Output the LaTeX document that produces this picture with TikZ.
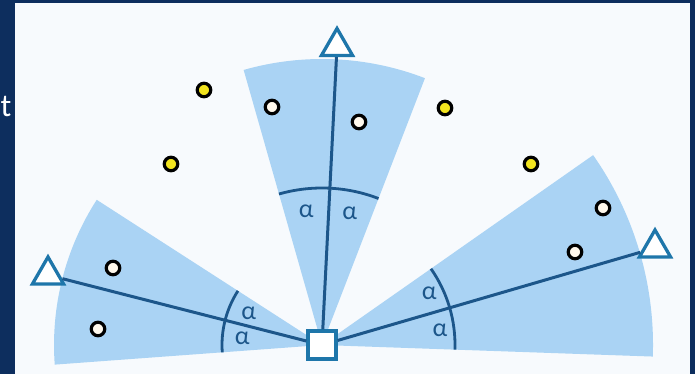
\documentclass[tikz,border=0pt]{standalone}
\usepackage{fontspec}
\setmainfont{Carlito}
\usetikzlibrary{shapes.geometric,calc}
\definecolor{frameC}{RGB}{13,46,94}
\definecolor{panelC}{RGB}{247,250,253}
\definecolor{beamC}{RGB}{170,211,244}
\definecolor{rayC}{RGB}{28,86,138}
\definecolor{antC}{RGB}{30,118,170}
\definecolor{tagC}{RGB}{242,228,30}
\definecolor{scatC}{RGB}{255,248,236}

\begin{document}
\begin{tikzpicture}[x=1pt,y=1pt,
  rx/.style={regular polygon,regular polygon sides=3,draw=antC,line width=3.3pt,
    fill=white,minimum size=36pt,inner sep=0pt},
  bs/.style={rectangle,draw=antC,line width=3.3pt,fill=white,minimum size=28pt,inner sep=0pt},
  dotY/.style={circle,draw=black,line width=3.2pt,fill=tagC,minimum size=13.5pt,inner sep=0pt},
  dotW/.style={dotY,fill=scatC},
  ray/.style={rayC,line width=3pt},
  amark/.style={rayC,line width=2.8pt},
  alab/.style={text=rayC,font=\fontsize{26}{26}\selectfont,inner sep=0pt}]
  \def\al{18.5}
  \fill[frameC] (0,0) rectangle (695,374);
  \fill[panelC] (15,0) rectangle (690,371);
  \useasboundingbox (0,0) rectangle (695,374);
  \node[white,anchor=west,font=\fontsize{32}{32}\selectfont,inner sep=0pt] (cut) at (0.5,267) {t};
  \coordinate (O) at (322,29);
  % beams: axis angle / radius / mark radius / label radius
  \foreach \a/\r/\m/\l [count=\i] in {165.7/268/100/80, 87.4/286/157/135, 16.5/331/133/119}{
    \pgfmathsetmacro\s{\a-\al}
    \pgfmathsetmacro\e{\a+\al}
    \fill[beamC] (O) -- ++(\s:\r) arc[start angle=\s,end angle=\e,radius=\r] -- cycle;
    \draw[amark] ($(O)+(\s:\m)$) arc[start angle=\s,end angle=\e,radius=\m];
    \node[alab] (al\i a) at ($(O)+(\a+\al/2:\l)$) {α};
    \node[alab] (al\i b) at ($(O)+(\a-\al/2:\l)$) {α};
  }
  % base station and receivers
  \node[bs] (bs) at (O) {};
  \node[rx] (rxL) at (48,99) {};
  \node[rx] (rxT) at (337,327.5) {};
  \node[rx] (rxR) at (655,126) {};
  \foreach \t in {rxL,rxT,rxR}
    \draw[ray] (bs) -- (\t);
  % tags
  \foreach \p [count=\i] in {(204,284),(171,210),(445,266),(531,210)}
    \node[dotY] (tg\i) at \p {};
  \foreach \p [count=\i] in {(272,267),(359,252),(113,106),(98,45),(603,166),(575,122)}
    \node[dotW] (sc\i) at \p {};
\end{tikzpicture}
\end{document}
